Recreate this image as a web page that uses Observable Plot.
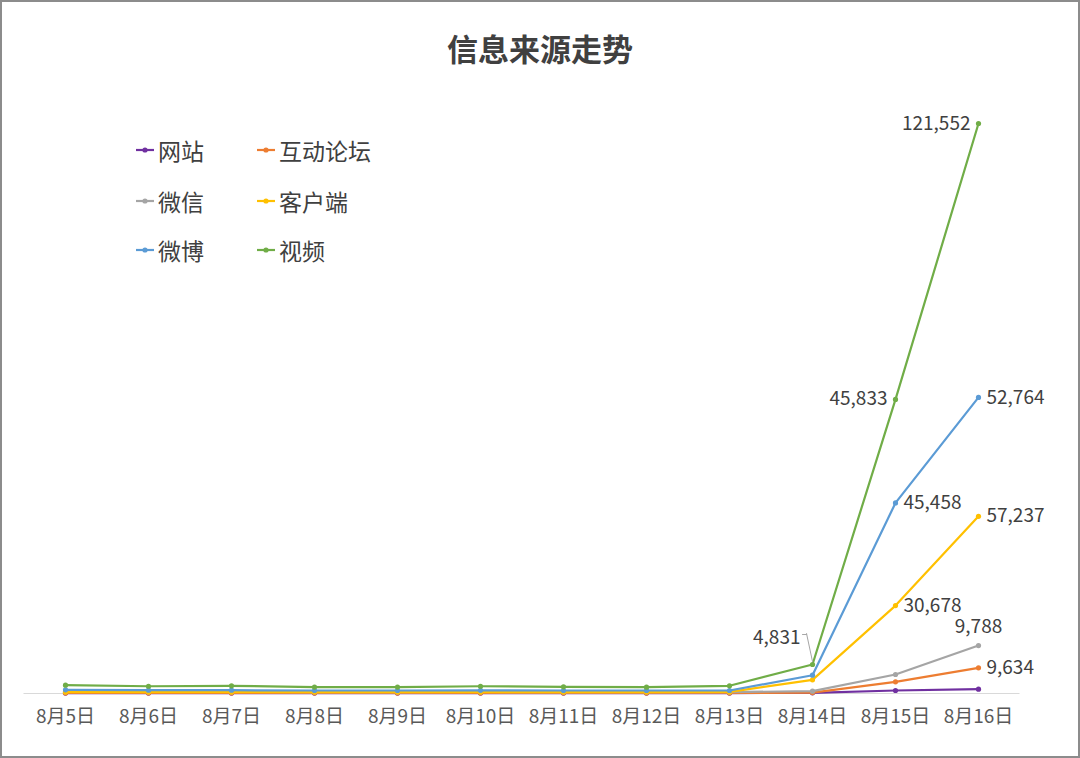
<!DOCTYPE html>
<html><head><meta charset="utf-8">
<script src="https://cdn.jsdelivr.net/npm/d3@7"></script>
<script src="https://cdn.jsdelivr.net/npm/@observablehq/plot@0.6"></script>
<style>
body{margin:0;background:#fff;font-family:"Noto Sans CJK SC","Noto Sans",sans-serif;}
#wrap{position:relative;width:1080px;height:758px;overflow:hidden;background:#fff;}
#frame{position:absolute;left:0;top:0;width:1080px;height:758px;box-sizing:border-box;border:2px solid #8c8c8c;pointer-events:none;}
#title{position:absolute;left:0;width:1080px;top:28px;text-align:center;font-size:31px;font-weight:bold;color:#404040;line-height:40px;}
#chart{position:absolute;left:0;top:0;}
.leg{position:absolute;display:flex;align-items:center;font-size:23px;color:#404040;height:30px;line-height:30px;}
.leg svg{margin-right:4px;}
</style>
</head><body>
<div id="wrap">
<div id="chart"></div>
<div id="title">信息来源走势</div>
<div id="legend"></div>
<div id="frame"></div>
</div>
<script>
const dates = ["8月5日","8月6日","8月7日","8月8日","8月9日","8月10日","8月11日","8月12日","8月13日","8月14日","8月15日","8月16日"];
const seriesNames = ["网站","互动论坛","微信","客户端","微博","视频"];
const seriesColors = ["#7030A0","#ED7D31","#A5A5A5","#FFC000","#5B9BD5","#70AD47"];
const website  = [80, 80, 80, 80, 80, 80, 80, 80, 80, 150, 640, 920];
const forum    = [120, 110, 110, 110, 110, 110, 110, 110, 110, 200, 2490, 5480];
const wechat   = [350, 330, 330, 300, 300, 320, 300, 300, 300, 490, 4050, 10230];
const client   = [300, 300, 300, 300, 300, 300, 300, 300, 330, 2920, 18750, 37780];
const weibo    = [790, 700, 700, 640, 640, 680, 640, 640, 640, 3900, 40640, 63140];
const video    = [1770, 1550, 1640, 1380, 1380, 1550, 1420, 1350, 1640, 6180, 62720, 121552];
const seriesValues = [website, forum, wechat, client, weibo, video];
// data labels printed on the chart
const labelSeries = ["视频","视频","视频","微博","微博","客户端","客户端","微信","互动论坛"];
const labelDates  = ["8月16日","8月15日","8月14日","8月16日","8月15日","8月16日","8月15日","8月16日","8月16日"];
const labelTexts  = ["121,552","45,833","4,831","52,764","45,458","57,237","30,678","9,788","9,634"];

const rows = [];
seriesNames.forEach((s, i) => dates.forEach((d, j) => rows.push({series: s, date: d, value: seriesValues[i][j]})));
const lookup = (s, d) => rows.find(r => r.series === s && r.date === d).value;
const labels = labelTexts.map((t, i) => ({series: labelSeries[i], date: labelDates[i], text: t, value: lookup(labelSeries[i], labelDates[i])}));
const leftLabels = labels.filter(l => l.series === "视频" && l.date !== "8月14日");
const leaderLabels = labels.filter(l => l.series === "视频" && l.date === "8月14日");
const aboveLabels = labels.filter(l => l.series === "微信");
const rightLabels = labels.filter(l => l.series !== "视频" && l.series !== "微信");

const marks = [Plot.ruleY([0], {stroke: "#d9d9d9", strokeWidth: 1})];
seriesNames.forEach((s, i) => {
  const data = rows.filter(r => r.series === s);
  marks.push(Plot.line(data, {x: "date", y: "value", stroke: seriesColors[i], strokeWidth: 2.2}));
  marks.push(Plot.dot(data, {x: "date", y: "value", fill: seriesColors[i], r: 2.6}));
});
const tStyle = {x: "date", y: "value", text: "text", fontSize: 19, fill: "#404040"};
marks.push(
  Plot.text(leftLabels, {...tStyle, textAnchor: "end", dx: -8}),
  Plot.text(rightLabels, {...tStyle, textAnchor: "start", dx: 8}),
  Plot.text(aboveLabels, {...tStyle, textAnchor: "middle", dy: -19}),
  Plot.text(leaderLabels, {...tStyle, textAnchor: "end", dx: -12, dy: -27}),
  Plot.vector(leaderLabels, {x: "date", y: "value", length: 28.6, rotate: -12, anchor: "start", stroke: "#a6a6a6", strokeWidth: 1, shape: {draw(ctx, l){ctx.moveTo(0,0);ctx.lineTo(0,-l);}}, dy: -3}),
  Plot.vector(leaderLabels, {x: "date", y: "value", length: 4, rotate: -90, anchor: "start", stroke: "#a6a6a6", strokeWidth: 1, shape: {draw(ctx, l){ctx.moveTo(0,0);ctx.lineTo(0,-l);}}, dx: -6, dy: -30}),
  Plot.axisX({tickSize: 0, tickPadding: 16, fontSize: 19, fill: "#595959", label: null})
);

const chart = Plot.plot({
  width: 1080, height: 758,
  marginLeft: 23.5, marginRight: 60.5, marginTop: 123, marginBottom: 65,
  style: {fontFamily: '"Noto Sans CJK SC","Noto Sans",sans-serif', background: "transparent", color: "#595959"},
  x: {type: "point", domain: dates, padding: 0.5},
  y: {domain: [0, 121552], axis: null},
  marks
});
document.getElementById("chart").appendChild(chart);

// legend
const legend = document.getElementById("legend");
const colX = [136, 257];
const rowY = [150, 200.5, 250];
seriesNames.forEach((s, i) => {
  const div = document.createElement("div");
  div.className = "leg";
  div.style.left = colX[i % 2] + "px";
  div.style.top = (rowY[Math.floor(i / 2)] - 15) + "px";
  div.innerHTML = `<svg width="18" height="8"><line x1="0" y1="4" x2="18" y2="4" stroke="${seriesColors[i]}" stroke-width="2.2"/><circle cx="9" cy="4" r="2.6" fill="${seriesColors[i]}"/></svg><span>${s}</span>`;
  legend.appendChild(div);
});
</script>
</body></html>
